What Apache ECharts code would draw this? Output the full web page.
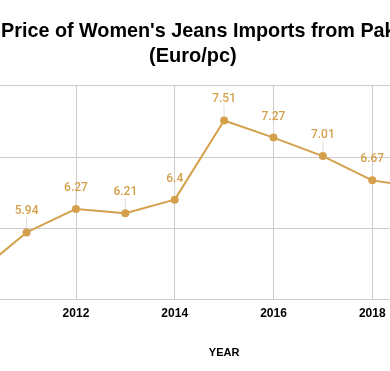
<!DOCTYPE html>
<html>
<head>
<meta charset="utf-8">
<script src="https://cdn.jsdelivr.net/npm/echarts@6/dist/echarts.min.js"></script>
<style>
html,body{margin:0;padding:0;background:#fff;}
#chart{width:390px;height:371px;}
</style>
</head>
<body>
<div id="chart"></div>
<script>
const years = [2010, 2011, 2012, 2013, 2014, 2015, 2016, 2017, 2018, 2019];
const prices = [5.37, 5.94, 6.27, 6.21, 6.4, 7.51, 7.27, 7.01, 6.67, 6.57];
const titleLine1 = "Price of Women's Jeans Imports from Pakistan";
const titleLine2 = "(Euro/pc)";
const xAxisName = "YEAR";

const gold = '#d4a04c';
const chart = echarts.init(document.getElementById('chart'));
chart.setOption({
  animation: false,
  backgroundColor: '#fff',
  title: [
    { text: titleLine1, left: 1, top: 20, padding: 0,
      textStyle: { fontFamily: 'Liberation Sans', fontWeight: 'bold', fontSize: 19.8, color: '#000', lineHeight: 24 } },
    { text: titleLine2, left: 149, top: 44, padding: 0,
      textStyle: { fontFamily: 'Liberation Sans', fontWeight: 'bold', fontSize: 20, color: '#000', lineHeight: 24 } }
  ],
  grid: { left: -22.8, right: -81, top: 85.5, bottom: 71.5, outerBoundsMode: 'none', containLabel: false },
  xAxis: {
    type: 'value', min: 2010, max: 2020, interval: 2,
    name: xAxisName, nameLocation: 'middle', nameGap: 48,
    nameTextStyle: { fontFamily: 'Liberation Sans', fontWeight: 'bold', fontSize: 11, color: '#000' },
    axisLine: { show: true, lineStyle: { color: '#cccccc', width: 1 } },
    axisTick: { show: false },
    axisLabel: { margin: 8, fontFamily: 'Liberation Sans', fontWeight: 'bold', fontSize: 12, color: '#000',
      formatter: v => String(v) },
    splitLine: { show: true, lineStyle: { color: '#cccccc', width: 1 } }
  },
  yAxis: {
    type: 'value', min: 5, max: 8, interval: 1,
    axisLine: { show: false }, axisTick: { show: false },
    axisLabel: { show: false },
    splitLine: { show: true, lineStyle: { color: '#cccccc', width: 1 } }
  },
  series: [{
    type: 'line',
    data: years.map((y, i) => [y, prices[i]]),
    lineStyle: { color: gold, width: 2 },
    itemStyle: { color: gold },
    symbol: 'circle', symbolSize: 8,
    label: {
      show: true, position: 'top', distance: 5,
      formatter: p => String(p.value[1]),
      fontFamily: 'Roboto', fontWeight: 500, fontSize: 12, color: gold
    },
    labelLayout: { dy: -6 },
    labelLine: { show: true, lineStyle: { color: '#dddddd', width: 1 } }
  }]
});
</script>
</body>
</html>
